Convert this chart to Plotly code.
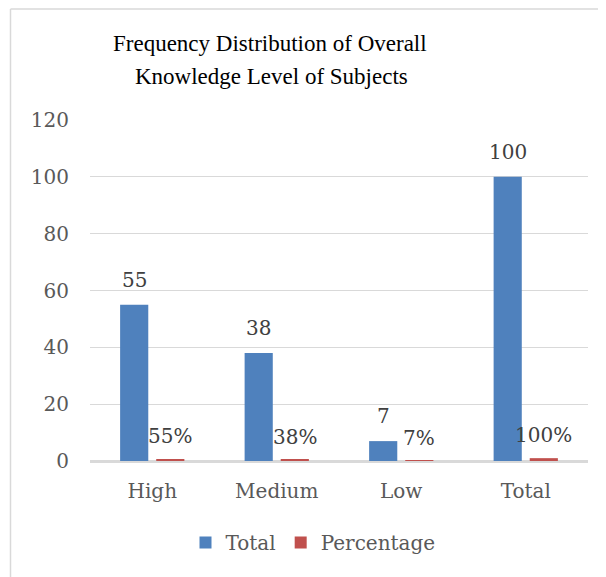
import plotly.graph_objects as go

categories = ["High", "Medium", "Low", "Total"]
total_values = [55, 38, 7, 100]
percentage_values = [0.55, 0.38, 0.07, 1.00]
percentage_labels = ["55%", "38%", "7%", "100%"]
y_ticks = [0, 20, 40, 60, 80, 100, 120]

OFF = 8  # page body margin
W, H = 606 - OFF, 577 - OFF
L = 90 - OFF
T = 120 - OFF
R = W - (588 - OFF)
B = H - (461.5 - OFF)
pw, ph = W - L - R, H - T - B

def px_to_paper_x(px):
    return (px - OFF - L) / pw

def px_to_paper_y(py):
    return (H - B - (py - OFF)) / ph

BLUE = "#4F81BD"
RED = "#C0504D"
LABEL_FONT = "DejaVu Serif"
TITLE_FONT = "Liberation Serif"
FS = 20

fig = go.Figure()
fig.add_trace(go.Bar(x=categories, y=total_values, name="Total",
                     marker=dict(color=BLUE, line=dict(width=0))))
fig.add_trace(go.Bar(x=categories, y=percentage_values, name="Percentage",
                     marker=dict(color=RED, line=dict(width=0))))

annotations = []
for c, v in zip(categories, total_values):
    annotations.append(dict(x=c, y=v, xref="x", yref="y", text=str(v), showarrow=False,
                            xshift=-18, yanchor="bottom", yshift=11,
                            font=dict(family=LABEL_FONT, size=FS, color="#404040")))
for c, v, t in zip(categories, percentage_values, percentage_labels):
    annotations.append(dict(x=c, y=v, xref="x", yref="y", text=t, showarrow=False,
                            xshift=18, yanchor="bottom", yshift=9,
                            font=dict(family=LABEL_FONT, size=FS, color="#404040")))

annotations.append(dict(x=px_to_paper_x(270), y=px_to_paper_y(43), xref="paper", yref="paper",
                        text="Frequency Distribution of Overall", showarrow=False,
                        xanchor="center", yanchor="middle",
                        font=dict(family=TITLE_FONT, size=23, color="#000000")))
annotations.append(dict(x=px_to_paper_x(271), y=px_to_paper_y(76), xref="paper", yref="paper",
                        text="Knowledge Level of Subjects", showarrow=False,
                        xanchor="center", yanchor="middle",
                        font=dict(family=TITLE_FONT, size=23, color="#000000")))

shapes = [
    dict(type="line", xref="paper", yref="paper",
         x0=px_to_paper_x(10.5), x1=px_to_paper_x(10.5),
         y0=px_to_paper_y(8.75), y1=px_to_paper_y(600),
         line=dict(color="#D9D9D9", width=1.5)),
    dict(type="line", xref="paper", yref="paper",
         x0=px_to_paper_x(10.5), x1=px_to_paper_x(620),
         y0=px_to_paper_y(8.75), y1=px_to_paper_y(8.75),
         line=dict(color="#D9D9D9", width=1.5)),
]

fig.update_layout(
    width=W, height=H,
    margin=dict(l=L, r=R, t=T, b=B, pad=0),
    paper_bgcolor="white", plot_bgcolor="white",
    barmode="group", bargap=0.42, bargroupgap=0.22,
    showlegend=True,
    legend=dict(orientation="h", x=px_to_paper_x(313), xanchor="center",
                y=px_to_paper_y(543), yanchor="middle",
                font=dict(family=LABEL_FONT, size=FS, color="#595959"),
                itemsizing="constant", traceorder="normal"),
    annotations=annotations,
    shapes=shapes,
    xaxis=dict(showgrid=False, showline=True, linecolor="#D9D9D9", linewidth=1.5,
               ticks="", ticklabelstandoff=11,
               tickfont=dict(family=LABEL_FONT, size=FS, color="#595959")),
    yaxis=dict(range=[0, 120], tickvals=y_ticks, showgrid=True, gridcolor="#D9D9D9",
               gridwidth=1.2, zeroline=True, zerolinecolor="#D9D9D9", zerolinewidth=1.5,
               showline=False, ticks="", ticklabelstandoff=20,
               tickfont=dict(family=LABEL_FONT, size=FS, color="#595959")),
)

fig.write_html("out.html")
